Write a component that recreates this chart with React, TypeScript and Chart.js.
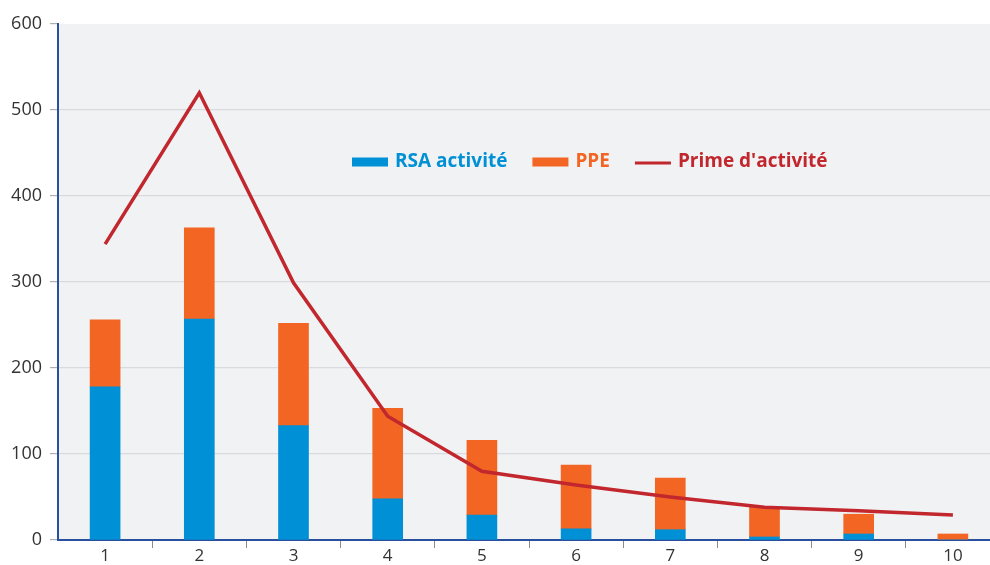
import React, { useEffect, useRef } from "react";
import { Chart, registerables } from "chart.js";

Chart.register(...registerables);

const categories = ["1", "2", "3", "4", "5", "6", "7", "8", "9", "10"];
const rsaActivite = [178, 257, 133, 48, 29, 13, 12, 3.5, 7, 0];
const ppe = [78, 106, 119, 105, 87, 74, 60, 34.5, 23, 7];
const primeActivite = [344, 520, 299, 144, 80, 64, 50, 38, 34, 29];
const yTicks = [0, 100, 200, 300, 400, 500, 600];

const BLUE = "#0090d5";
const ORANGE = "#f36523";
const RED = "#c1272d";
const AXIS = "#2a4f9e";
const FONT = "'Open Sans', 'Noto Sans', sans-serif";

const bgPlugin = {
  id: "bgPlugin",
  beforeDraw(chart: any) {
    const { ctx, chartArea } = chart;
    ctx.save();
    ctx.fillStyle = "#f1f2f4";
    ctx.fillRect(chartArea.left, chartArea.top, chartArea.right - chartArea.left, chartArea.bottom - chartArea.top);
    ctx.restore();
  },
};

const legendPlugin = {
  id: "legendPlugin",
  afterDraw(chart: any) {
    const { ctx } = chart;
    const items = [
      { text: "RSA activité", color: BLUE, type: "box" },
      { text: "PPE", color: ORANGE, type: "box" },
      { text: "Prime d'activité", color: RED, type: "line" },
    ];
    ctx.save();
    ctx.font = `bold 19px ${FONT}`;
    ctx.textBaseline = "middle";
    let x = 352;
    const y = 162;
    for (const it of items) {
      if (it.type === "box") {
        ctx.fillStyle = it.color;
        ctx.fillRect(x, y - 4.5, 36, 9);
      } else {
        ctx.strokeStyle = it.color;
        ctx.lineWidth = 3;
        ctx.beginPath();
        ctx.moveTo(x, y + 1);
        ctx.lineTo(x + 36, y + 1);
        ctx.stroke();
      }
      x += 36 + 7;
      ctx.fillStyle = it.color;
      ctx.fillText(it.text, x, y);
      x += ctx.measureText(it.text).width + 25;
    }
    ctx.restore();
  },
};

export default function App() {
  const ref = useRef<HTMLCanvasElement | null>(null);
  useEffect(() => {
    if (!ref.current) return;
    const chart = new Chart(ref.current, {
      type: "bar",
      data: {
        labels: categories,
        datasets: [
          {
            type: "line",
            label: "Prime d'activité",
            data: primeActivite,
            borderColor: RED,
            backgroundColor: RED,
            borderWidth: 3.5,
            pointRadius: 0,
            tension: 0,
            stack: "line",
            order: 0,
          } as any,
          {
            label: "RSA activité",
            data: rsaActivite,
            backgroundColor: BLUE,
            barThickness: 30,
            stack: "bars",
            order: 1,
          },
          {
            label: "PPE",
            data: ppe,
            backgroundColor: ORANGE,
            barThickness: 30,
            stack: "bars",
            order: 2,
          },
        ],
      },
      options: {
        animation: false,
        responsive: true,
        maintainAspectRatio: false,
        layout: { padding: { top: 24, right: 2, left: 0, bottom: 0 } },
        plugins: { legend: { display: false }, tooltip: { enabled: false } },
        scales: {
          x: {
            stacked: true,
            offset: true,
            grid: {
              offset: true,
              drawOnChartArea: false,
              drawTicks: true,
              tickLength: 8,
              color: "#8a8a8a",
              tickColor: (c: any) => (c.index === 0 ? "rgba(0,0,0,0)" : "#8a8a8a"),
            },
            border: { color: AXIS, width: 2 },
            ticks: { color: "#333", font: { family: FONT, size: 17 }, padding: -2 },
            afterFit(scale: any) {
              scale.height = 25;
            },
          },
          y: {
            stacked: true,
            min: 0,
            max: 600,
            afterBuildTicks(scale: any) {
              scale.ticks = yTicks.map((v) => ({ value: v }));
            },
            grid: {
              color: (c: any) => (c.tick && c.tick.value === 600 ? "rgba(0,0,0,0)" : "#d9dadd"),
              tickColor: "#b0b0b0",
              tickLength: 8,
              lineWidth: 1.2,
            },
            border: { color: AXIS, width: 2 },
            ticks: { color: "#333", font: { family: FONT, size: 18 }, padding: 8 },
            afterFit(scale: any) {
              scale.width = 58;
            },
          },
        },
      },
      plugins: [bgPlugin, legendPlugin],
    });
    return () => chart.destroy();
  }, []);
  return (
    <div style={{ position: "fixed", left: 0, top: 0, width: 990, height: 565, overflow: "hidden", background: "#fff" }}>
      <div style={{ position: "relative", width: 1002, height: 565 }}>
        <canvas ref={ref} />
      </div>
    </div>
  );
}
